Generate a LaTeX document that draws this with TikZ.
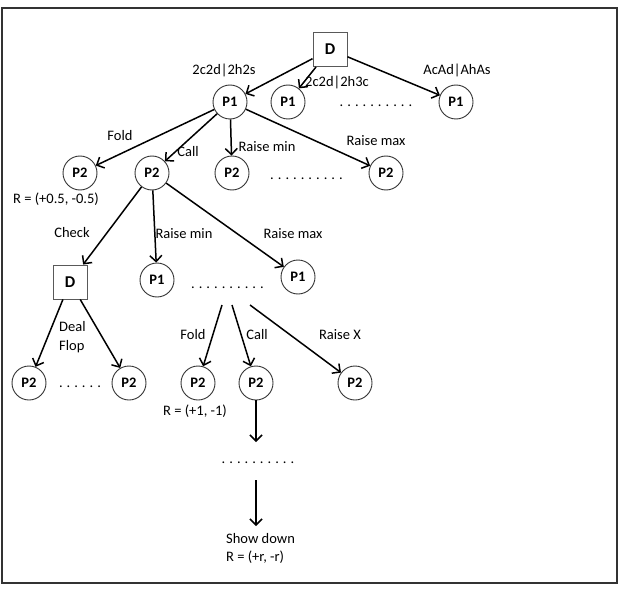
\documentclass[tikz,border=0pt]{standalone}
\usepackage{fontspec}
\setmainfont{Carlito}
\usetikzlibrary{arrows.meta}
\newcommand{\mydots}[1]{\foreach \i in {2,...,#1}{.\hspace{4.0pt}}.}
\begin{document}
\begin{tikzpicture}[x=1pt,y=-1pt,
  pl/.style={circle,draw=black!80,line width=0.9pt,minimum size=34pt,inner sep=0pt,font=\fontsize{14.5}{16}\selectfont\bfseries},
  dl/.style={rectangle,draw=black!65,line width=0.9pt,minimum size=34pt,inner sep=0pt,font=\fontsize{16.5}{18}\selectfont\bfseries},
  lbl/.style={inner sep=0pt,font=\fontsize{14.5}{17}\selectfont},
  dts/.style={inner sep=0pt,font=\fontsize{14.5}{17}\selectfont},
  arr/.style={line width=1.5pt,-{Straight Barb[length=6pt,width=12pt]}},
  ln/.style={line width=1.5pt}]
\useasboundingbox (0,0) rectangle (620,588);
\draw[line width=1.6pt,black!80] (2,8) rectangle (617,583);
% nodes
\node[dl] (D) at (330,49.5) {D};
\node[pl] (p1a) at (230,102) {P1};
\node[pl] (p1b) at (288,102) {P1};
\node[pl] (p1c) at (456,102) {P1};
\node[dts] (dA) at (376,106) {\mydots{10}};
\node[pl] (p2a) at (80,173) {P2};
\node[pl] (p2b) at (152,173) {P2};
\node[pl] (p2c) at (232,173) {P2};
\node[pl] (p2d) at (386,173) {P2};
\node[dts] (dB) at (306.5,179) {\mydots{10}};
\node[dl] (D2) at (70,282) {D};
\node[pl] (p1d) at (157,280) {P1};
\node[pl] (p1e) at (298,277) {P1};
\node[dts] (dC) at (227.5,288) {\mydots{10}};
\node[pl] (p2e) at (29,383) {P2};
\node[pl] (p2f) at (129,383) {P2};
\node[dts] (dD) at (80,387) {\mydots{6}};
\node[pl] (p2g) at (198,383) {P2};
\node[pl] (p2h) at (256,383) {P2};
\node[pl] (p2i) at (355,383) {P2};
\coordinate (c1) at (222,305);
\coordinate (c2) at (232,305);
\coordinate (c3) at (250,305);
\coordinate (t1) at (256,442);
\node[dts] (dE) at (258,463) {\mydots{10}};
\coordinate (s1) at (256,480);
\coordinate (t2) at (256,526);
% edges
\draw[arr] (D) -- (p1a);
\draw[arr] (D) -- (p1b);
\draw[arr] (D) -- (p1c);
\draw[arr] (p1a) -- (p2a);
\draw[arr] (p1a) -- (p2b);
\draw[arr] (p1a) -- (p2c);
\draw[arr] (p1a) -- (p2d);
\draw[arr] (p2b) -- (D2);
\draw[arr] (p2b) -- (p1d);
\draw[arr] (p2b) -- (p1e);
\draw[arr] (D2) -- (p2e);
\draw[arr] (D2) -- (p2f);
\draw[arr] (c1) -- (p2g);
\draw[arr] (c2) -- (p2h);
\draw[arr] (c3) -- (p2i);
\draw[arr] (p2h) -- (t1);
\draw[arr] (s1) -- (t2);
% labels
\node[lbl] (l1) at (224,70) {2c2d|2h2s};
\node[lbl] (l2) at (337,82) {2c2d|2h3c};
\node[lbl] (l3) at (457,70) {AcAd|AhAs};
\node[lbl] (l4) at (120,136) {Fold};
\node[lbl] (l5) at (188,152) {Call};
\node[lbl] (l6) at (267,147) {Raise min};
\node[lbl] (l7) at (376,141) {Raise max};
\node[lbl] (l8) at (56,199) {R = (+0.5, -0.5)};
\node[lbl] (l9) at (72,233) {Check};
\node[lbl] (l10) at (184,234) {Raise min};
\node[lbl] (l11) at (293,234) {Raise max};
\node[lbl,anchor=west] (l12) at (59,327) {Deal};
\node[lbl,anchor=west] (l13) at (59,347) {Flop};
\node[lbl] (l14) at (193,335) {Fold};
\node[lbl] (l15) at (257,335) {Call};
\node[lbl] (l16) at (340,335) {Raise X};
\node[lbl] (l17) at (195,411) {R = (+1, -1)};
\node[lbl,anchor=west] (sd) at (226,539) {Show down};
\node[lbl,anchor=west] (rr) at (226,557) {R = (+r, -r)};
\end{tikzpicture}
\end{document}
